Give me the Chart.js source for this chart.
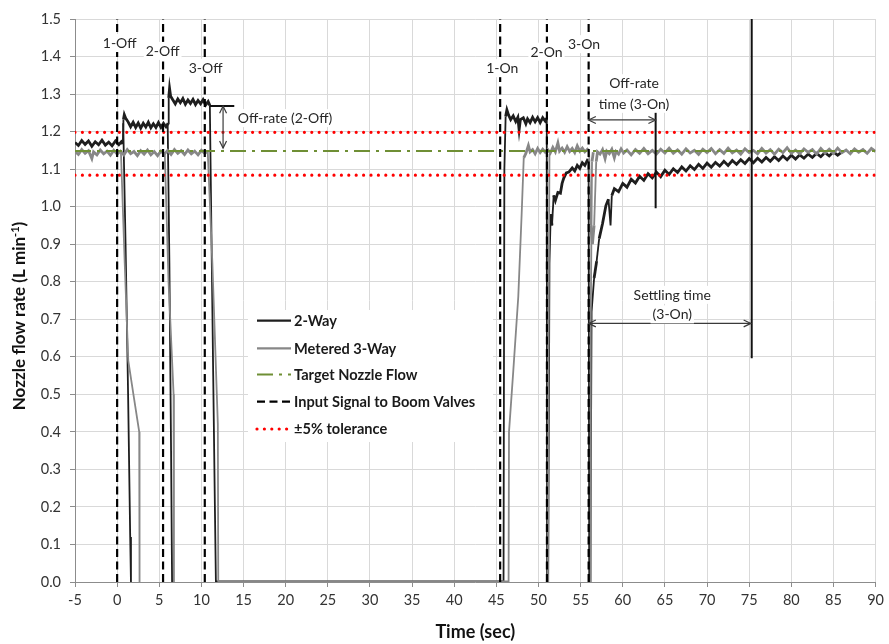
<!DOCTYPE html>
<html>
<head>
<meta charset="utf-8">
<script src="https://cdn.jsdelivr.net/npm/chart.js@4/dist/chart.umd.min.js"></script>
<style>
  html, body { margin: 0; padding: 0; background: #fff; }
  canvas { display: block; }
</style>
</head>
<body>
<canvas id="flow" width="889" height="644"></canvas>
<script>
// ---- Measured nozzle flow, [time (s), flow (L/min)] ----
// 2-way valve: nozzle that stays on longest (3-Off / 1-On / recovery after 2-On and 3-On)
const twoWayMain = [
  [-5,1.171],[-4.6,1.163],[-4.2,1.176],[-3.8,1.166],[-3.4,1.175],[-3.0,1.161],[-2.6,1.173],[-2.2,1.165],
  [-1.8,1.177],[-1.4,1.164],[-1.0,1.172],[-0.6,1.162],[-0.2,1.175],[0.2,1.165],[0.5,1.173],[0.68,1.167],
  [0.75,1.232],[0.85,1.245],[1.0,1.236],[1.3,1.226],[1.6,1.213],[1.9,1.225],[2.2,1.211],[2.5,1.223],
  [2.8,1.209],[3.1,1.222],[3.4,1.212],[3.7,1.225],[4.0,1.21],[4.3,1.221],[4.6,1.211],[4.9,1.224],
  [5.2,1.211],[5.5,1.222],[5.8,1.213],[6.05,1.222],
  [6.12,1.29],[6.22,1.315],[6.35,1.294],[6.6,1.285],[6.9,1.274],[7.2,1.287],[7.5,1.277],[7.8,1.288],
  [8.1,1.273],[8.4,1.284],[8.7,1.275],[9.0,1.286],[9.3,1.272],[9.6,1.283],[9.9,1.274],[10.2,1.285],
  [10.5,1.271],[10.8,1.28],[11.0,1.27],
  [11.15,1.0],[11.4,0.55],[11.6,0.2],[11.72,0],
  [45.85,0],[45.95,1.1],[46.1,1.24],[46.25,1.258],[46.45,1.244],[46.7,1.232],[47.0,1.242],[47.3,1.227],
  [47.55,1.238],[47.7,1.205],[47.85,1.232],[48.2,1.237],[48.5,1.221],[48.7,1.234],[49.0,1.224],
  [49.3,1.238],[49.6,1.226],[49.9,1.237],[50.2,1.224],[50.5,1.237],[50.8,1.228],[50.98,1.236],
  [51.02,0],[51.15,0],[51.3,0.85],[51.45,0.98],[51.6,0.95],[51.8,1.03],[52.0,1.016],[52.3,1.038],
  [52.6,1.036],[52.8,1.062],[53.0,1.076],[53.3,1.09],[53.6,1.092],[54.0,1.103],[54.3,1.095],[54.6,1.11],
  [54.9,1.102],[55.2,1.117],[55.5,1.11],[55.8,1.124],[55.95,1.122],
  [56.02,0],[56.15,0],[56.3,0.72],[56.6,0.81],[56.9,0.855],[57.2,0.915],[57.6,0.955],[58.0,1.003],
  [58.3,1.02],[58.55,0.95],[58.7,1.03],[59.0,1.048],[59.5,1.04],[60.0,1.062],[60.5,1.052],
  [61.0,1.073],[61.5,1.063],[62.0,1.081],[62.5,1.07],[63.0,1.088],[63.5,1.077],[64.0,1.092],
  [64.5,1.08],[65.0,1.097],[65.5,1.086],[66.0,1.101],[66.5,1.091],[67.0,1.106],[67.5,1.095],
  [68.0,1.109],[68.5,1.099],[69.0,1.113],[69.5,1.102],[70.0,1.116],[70.5,1.105],[71.0,1.118],
  [71.5,1.108],[72.0,1.121],[72.5,1.11],[73.0,1.123],[73.5,1.113],[74.0,1.125],[74.5,1.115],
  [75.0,1.128],[75.5,1.117],[76.0,1.129],[76.5,1.119],[77.0,1.131],[77.5,1.121],[78.0,1.133],
  [78.5,1.123],[79.0,1.135],[79.5,1.125],[80.0,1.137],[80.5,1.127],[81.0,1.138],[81.5,1.129],
  [82.0,1.14],[82.5,1.131],[83.0,1.142],[83.5,1.133],[84.0,1.144],[84.5,1.135],[85.0,1.146],
  [85.5,1.137],[86.0,1.146]
];
// 2-way valve: nozzles of sections 1 and 2 shutting off
const twoWayOff1 = [[0.72,1.222],[1.0,0.9],[1.3,0.5],[1.55,0.12],[1.64,0]];
const twoWayOff2 = [[6.0,1.218],[6.2,0.85],[6.4,0.35],[6.52,0]];

// Metered 3-way valve
const threeWayMain = [
  [-5,1.147],[-4.6,1.139],[-4.2,1.152],[-3.8,1.142],[-3.4,1.149],[-3.0,1.128],[-2.8,1.146],[-2.4,1.138],
  [-2.0,1.151],[-1.6,1.141],[-1.2,1.148],[-0.8,1.137],[-0.4,1.15],[0,1.14],[0.4,1.148],[0.8,1.138],
  [1.2,1.152],[1.6,1.141],[2.0,1.147],[2.4,1.136],[2.8,1.149],[3.2,1.14],[3.6,1.151],[4.0,1.138],
  [4.4,1.147],[4.8,1.136],[5.2,1.148],[5.6,1.14],[6.0,1.15],[6.4,1.139],[6.8,1.152],[7.2,1.142],
  [7.6,1.149],[8.0,1.139],[8.4,1.151],[8.8,1.141],[9.2,1.148],[9.6,1.138],[10.0,1.15],[10.4,1.142],
  [10.75,1.148],
  [11.3,0.85],[11.95,0.42],[12.0,0],
  [46.45,0],[46.5,0.4],[47.0,0.56],[47.6,0.76],[48.0,0.98],[48.25,1.13],[48.5,1.142],[48.8,1.163],
  [49.0,1.146],[49.3,1.152],[49.6,1.141],[49.9,1.155],[50.2,1.144],[50.5,1.153],[50.8,1.145],
  [51.1,1.152],[51.4,1.143],[51.7,1.158],[52.0,1.146],[52.3,1.17],[52.5,1.148],[52.8,1.156],
  [53.1,1.145],[53.4,1.16],[53.7,1.147],[54.0,1.155],[54.3,1.144],[54.6,1.162],[54.9,1.148],
  [55.2,1.156],[55.5,1.146],[55.8,1.153],[56.0,1.148],[56.2,0.95],[56.4,0.9],[56.6,0.95],
  [56.85,1.12],[57.0,1.146],[57.3,1.14],[57.6,1.152],[57.9,1.128],[58.1,1.148],[58.4,1.141],
  [58.7,1.153],[59.0,1.13],[59.2,1.147],[59.5,1.14],[59.8,1.154],[60.1,1.143],[60.5,1.151],
  [61.0,1.138],[61.5,1.152],[62.0,1.142],[62.5,1.155],[63.0,1.141],[63.5,1.15],[64.0,1.14],
  [64.5,1.153],[65.0,1.143],[65.5,1.156],[66.0,1.142],[66.5,1.151],[67.0,1.14],[67.5,1.154],
  [68.0,1.143],[68.5,1.15],[69.0,1.139],[69.5,1.153],[70.0,1.144],[70.5,1.155],[71.0,1.141],
  [71.5,1.152],[72.0,1.142],[72.5,1.156],[73.0,1.143],[73.5,1.151],[74.0,1.14],[74.5,1.154],
  [75.0,1.144],[75.5,1.15],[76.0,1.141],[76.5,1.155],[77.0,1.143],[77.5,1.152],[78.0,1.14],
  [78.5,1.153],[79.0,1.144],[79.5,1.157],[80.0,1.142],[80.5,1.151],[81.0,1.141],[81.5,1.154],
  [82.0,1.145],[82.5,1.152],[83.0,1.14],[83.5,1.155],[84.0,1.143],[84.5,1.153],[85.0,1.142],
  [85.5,1.156],[86.0,1.144],[86.5,1.151],[87.0,1.141],[87.5,1.154],[88.0,1.145],[88.5,1.152],
  [89.0,1.142],[89.5,1.155],[90.0,1.147]
];
const threeWayOff1 = [[0.45,1.145],[0.9,0.85],[1.32,0.59],[2.0,0.49],[2.62,0.40],[2.66,0]];
const threeWayOff2 = [[5.65,1.145],[6.1,0.8],[6.7,0.5],[6.74,0]];
const threeWayOn2 = [[51.12,0],[51.18,0.6],[51.3,1.14]];
const threeWayOn3 = [[56.12,0],[56.2,0.7],[56.35,1.12],[56.5,1.145]];

// Input signal to boom valves: switching times (s)
const valveEvents = [0, 5.45, 10.4, 45.45, 51.0, 55.95];
const eventNames  = ['1-Off', '2-Off', '3-Off', '1-On', '2-On', '3-On'];

// Target nozzle flow and the ±5% band (L/min)
const targetFlow = 1.148;
const toleranceLow = 1.084;
const toleranceHigh = 1.198;

// Axis ranges
const timeRange = [-5, 90];
const flowRange = [0, 1.5];

// Timing markers: off-rate (3-On) ends at 63.9 s, settling (3-On) ends at 75.3 s
const offRateEnd = 63.9;
const settlingEnd = 75.3;
const offRateLevel2Off = 1.268;

// ---- helpers ----
function joinSegments(...segments) {
  const pts = [];
  segments.forEach((seg, i) => {
    if (i > 0) pts.push({ x: seg[0][0], y: null });
    seg.forEach(([x, y]) => pts.push({ x, y }));
  });
  return pts;
}

const signalPoints = joinSegments(...valveEvents.map(t => [[t, flowRange[0]], [t, flowRange[1]]]));

const FONT = 'Lato';
const TEXT = '#262626';

// Layout anchors for the annotation texts (data coordinates)
const labelAnchors = [[0.3, 1.436], [5.4, 1.415], [10.5, 1.37], [45.7, 1.369], [50.95, 1.413], [55.4, 1.433]];

function drawArrowHead(ctx, x, y, ang) {
  const len = 8, spread = 0.45;
  ctx.beginPath();
  ctx.moveTo(x - len * Math.cos(ang - spread), y - len * Math.sin(ang - spread));
  ctx.lineTo(x, y);
  ctx.lineTo(x - len * Math.cos(ang + spread), y - len * Math.sin(ang + spread));
  ctx.stroke();
}
function drawArrow(ctx, x1, y1, x2, y2) {
  ctx.beginPath();
  ctx.moveTo(x1, y1);
  ctx.lineTo(x2, y2);
  ctx.stroke();
  const a = Math.atan2(y2 - y1, x2 - x1);
  drawArrowHead(ctx, x2, y2, a);
  drawArrowHead(ctx, x1, y1, a + Math.PI);
}
function boxedText(ctx, text, cx, cy, align) {
  const w = ctx.measureText(text).width;
  const left = align === 'left' ? cx : cx - w / 2;
  ctx.fillStyle = '#fff';
  ctx.fillRect(left - 2, cy - 9, w + 4, 18);
  ctx.fillStyle = TEXT;
  ctx.textAlign = 'left';
  ctx.textBaseline = 'middle';
  ctx.fillText(text, left, cy + 0.5);
}

const overlayPlugin = {
  id: 'overlay',
  afterDatasetsDraw(chart) {
    const { ctx, scales: { x, y } } = chart;
    const px = v => x.getPixelForValue(v);
    const py = v => y.getPixelForValue(v);
    ctx.save();

    // arrows
    ctx.strokeStyle = '#3a3a3a';
    ctx.lineWidth = 1.2;
    drawArrow(ctx, px(12.57), py(offRateLevel2Off), px(12.57), py(1.156));
    drawArrow(ctx, px(valveEvents[5]), py(1.231), px(offRateEnd), py(1.231));
    drawArrow(ctx, px(valveEvents[5]), py(0.689), px(settlingEnd - 0.1), py(0.689));

    // event labels
    ctx.font = `14px ${FONT}`;
    eventNames.forEach((name, i) => {
      boxedText(ctx, name, px(labelAnchors[i][0]), py(labelAnchors[i][1]), 'center');
    });
    boxedText(ctx, 'Off-rate (2-Off)', px(14.31), py(1.236), 'left');
    boxedText(ctx, 'Off-rate', px(61.34), py(1.329), 'center');
    boxedText(ctx, 'time (3-On)', px(61.34), py(1.274), 'center');
    boxedText(ctx, 'Settling time', px(65.87), py(0.765), 'center');
    boxedText(ctx, '(3-On)', px(65.87), py(0.713), 'center');

    // legend
    const lx = 248, ly = 310;
    ctx.fillStyle = '#fff';
    ctx.fillRect(lx, ly, 245, 132);
    const rows = [320.7, 348.3, 374.5, 401.7, 429];
    const items = chart.data.datasets.filter(d => d.legendRow !== undefined)
      .sort((a, b) => a.legendRow - b.legendRow);
    items.forEach((d, i) => {
      const yy = rows[i];
      ctx.save();
      ctx.strokeStyle = d.borderColor;
      ctx.lineWidth = Math.min(d.borderWidth, 2.2);
      if (d.borderCapStyle) ctx.lineWidth = d.borderWidth;
      ctx.lineCap = d.borderCapStyle || 'butt';
      ctx.setLineDash(d.borderDash || []);
      ctx.beginPath();
      ctx.moveTo(257, yy);
      ctx.lineTo(291, yy);
      ctx.stroke();
      ctx.restore();
      ctx.font = `bold 14.6px ${FONT}`;
      ctx.fillStyle = '#1a1a1a';
      ctx.textAlign = 'left';
      ctx.textBaseline = 'middle';
      ctx.fillText(d.label, 294, yy + 0.5);
    });

    // y-axis title with superscript
    ctx.save();
    ctx.translate(20, 316);
    ctx.rotate(-Math.PI / 2);
    const main = 'Nozzle flow rate (L min';
    const sup = '-1';
    const tail = ')';
    ctx.fillStyle = '#111';
    ctx.textBaseline = 'middle';
    ctx.textAlign = 'left';
    ctx.font = `bold 17px ${FONT}`;
    const wMain = ctx.measureText(main).width;
    const wTail = ctx.measureText(tail).width;
    ctx.font = `bold 11px ${FONT}`;
    const wSup = ctx.measureText(sup).width;
    const total = wMain + wSup + wTail;
    let cx = -total / 2;
    ctx.font = `bold 17px ${FONT}`;
    ctx.fillText(main, cx, 0);
    cx += wMain;
    ctx.font = `bold 11px ${FONT}`;
    ctx.fillText(sup, cx, -5);
    cx += wSup;
    ctx.font = `bold 17px ${FONT}`;
    ctx.fillText(tail, cx, 0);
    ctx.restore();

    ctx.restore();
  }
};

const lineBase = { pointRadius: 0, tension: 0, spanGaps: false, fill: false };
// noisy plateaus drawn as a heavier band, fast transitions thinner
const traceWidth = c => Math.abs(c.p1.parsed.y - c.p0.parsed.y) > 0.06 ? 1.8 : 2.8;

new Chart(document.getElementById('flow'), {
  type: 'line',
  data: {
    datasets: [
      { ...lineBase, label: '2-Way', legendRow: 0, order: 5,
        data: joinSegments(twoWayMain, twoWayOff1, twoWayOff2),
        borderColor: '#1e1e1e', borderWidth: 2.8, segment: { borderWidth: traceWidth } },
      { ...lineBase, label: 'Metered 3-Way', legendRow: 1, order: 4,
        data: joinSegments(threeWayMain, threeWayOff1, threeWayOff2, threeWayOn2, threeWayOn3),
        borderColor: '#878787', borderWidth: 2.8, segment: { borderWidth: traceWidth } },
      { ...lineBase, label: 'Target Nozzle Flow', legendRow: 2, order: 3,
        data: [{ x: timeRange[0], y: targetFlow }, { x: timeRange[1], y: targetFlow }],
        borderColor: '#6f8f35', borderWidth: 2, borderDash: [16, 6, 3, 6] },
      { ...lineBase, label: 'Input Signal to Boom Valves', legendRow: 3, order: 0,
        data: signalPoints,
        borderColor: '#000', borderWidth: 2.2, borderDash: [8, 4.5] },
      { ...lineBase, label: '±5% tolerance', legendRow: 4, order: 1,
        data: [{ x: timeRange[0], y: toleranceHigh }, { x: timeRange[1], y: toleranceHigh }],
        borderColor: '#ff0000', borderWidth: 3.2, borderDash: [0, 7.4], borderCapStyle: 'round' },
      { ...lineBase, label: 'lower tolerance', order: 1,
        data: [{ x: timeRange[0], y: toleranceLow }, { x: timeRange[1], y: toleranceLow }],
        borderColor: '#ff0000', borderWidth: 3.2, borderDash: [0, 7.4], borderCapStyle: 'round' },
      { ...lineBase, label: 'markers', order: 0,
        data: joinSegments(
          [[offRateEnd, 0.996], [offRateEnd, 1.258]],
          [[settlingEnd, 0.596], [settlingEnd, flowRange[1]]],
          [[11.0, offRateLevel2Off], [13.9, offRateLevel2Off]]
        ),
        borderColor: '#111', borderWidth: 2 }
    ]
  },
  options: {
    responsive: false,
    animation: false,
    devicePixelRatio: 1,
    layout: { padding: { top: 19, right: 12, left: 0, bottom: 0 } },
    plugins: { legend: { display: false }, tooltip: { enabled: false } },
    scales: {
      x: {
        type: 'linear', min: timeRange[0], max: timeRange[1],
        ticks: { stepSize: 5, autoSkip: false, maxRotation: 0, padding: 5,
                 color: '#333', font: { family: FONT, size: 14.5 } },
        grid: { color: '#d9d9d9', tickColor: '#8c8c8c', tickLength: 5 },
        border: { color: '#8c8c8c' },
        title: { display: true, text: 'Time (sec)', color: '#111',
                 font: { family: FONT, size: 18, weight: 'bold' }, padding: { top: 0, bottom: 1 } },
        afterFit(scale) { scale.height = 62; }
      },
      y: {
        min: flowRange[0], max: flowRange[1],
        ticks: { stepSize: 0.1, padding: 9, color: '#333', font: { family: FONT, size: 14.5 },
                 callback: v => Number(v).toFixed(1) },
        grid: { color: '#d9d9d9', tickColor: '#8c8c8c', tickLength: 5 },
        border: { color: '#8c8c8c' },
        afterFit(scale) { scale.width = 75; }
      }
    }
  },
  plugins: [overlayPlugin]
});
</script>
</body>
</html>
